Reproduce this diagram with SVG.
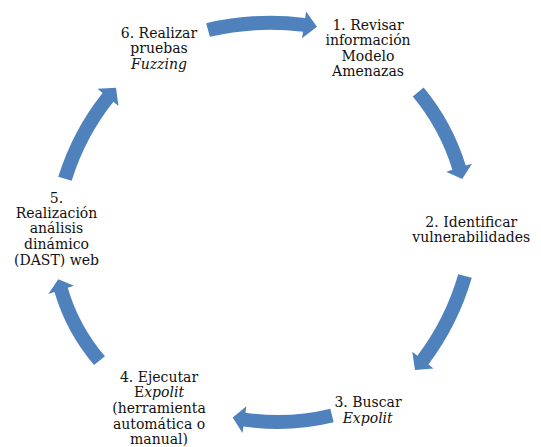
<svg xmlns="http://www.w3.org/2000/svg" xmlns:xlink="http://www.w3.org/1999/xlink" width="541" height="447" viewBox="0 0 541 447">
<style>
.t{font-family:"DejaVu Serif","Liberation Serif",serif;font-size:14px;fill:#111;text-anchor:middle}
.i{font-style:italic}
.a{fill:#4F81BD}
</style>
<defs>
<path id="arw" d="M -51.52,-6.83 A 237 237 0 0 1 39.39,-9.20 L 40.47,-15.61 L 50,0 L 35.98,11.01 L 37.06,4.60 A 223 223 0 0 0 -48.48,6.83 Z"/>
</defs>
<rect width="541" height="447" fill="#fff"/>
<g id="connectors" class="a">
<use xlink:href="#arw" transform="translate(262.5,28.4) rotate(-1.73) scale(1.09,1)"/>
<use xlink:href="#arw" transform="translate(440.2,135.5) rotate(63.17) scale(0.975,1)"/>
<use xlink:href="#arw" transform="translate(440,323.1) rotate(118) scale(1.065,1)"/>
<use xlink:href="#arw" transform="translate(282.35,416.5) rotate(178.85) scale(0.993,1)"/>
<use xlink:href="#arw" transform="translate(78.9,320) rotate(-116.84) scale(0.912,1)"/>
<use xlink:href="#arw" transform="translate(90.5,133.3) rotate(-60.73) scale(1.043,1)"/>
</g>
<g id="node1">
<text class="t" x="368" y="29.5">1. Revisar</text>
<text class="t" x="368" y="45">información</text>
<text class="t" x="368" y="60.7">Modelo</text>
<text class="t" x="368" y="76.3">Amenazas</text>
</g>
<g id="node2">
<text class="t" x="471.3" y="226.7">2. Identificar</text>
<text class="t" x="471.3" y="242.2">vulnerabilidades</text>
</g>
<g id="node3">
<text class="t" x="368" y="406.7">3. Buscar</text>
<text class="t i" x="367.7" y="422.5">Expolit</text>
</g>
<g id="node4">
<text class="t" x="159" y="381.7">4. Ejecutar</text>
<text class="t" x="159" y="397.3">E<tspan class="i">xpolit</tspan></text>
<text class="t" x="159" y="413.2">(herramienta</text>
<text class="t" x="159" y="428.9">automática o</text>
<text class="t" x="159" y="444.4">manual)</text>
</g>
<g id="node5">
<text class="t" x="56.5" y="202.7">5.</text>
<text class="t" x="56.5" y="217.9">Realización</text>
<text class="t" x="56.5" y="233.3">análisis</text>
<text class="t" x="56.5" y="248.6">dinámico</text>
<text class="t" x="56.5" y="264.8">(DAST) web</text>
</g>
<g id="node6">
<text class="t" x="159" y="37.5">6. Realizar</text>
<text class="t" x="159" y="53">pruebas</text>
<text class="t i" x="159" y="68.5">Fuzzing</text>
</g>
</svg>
